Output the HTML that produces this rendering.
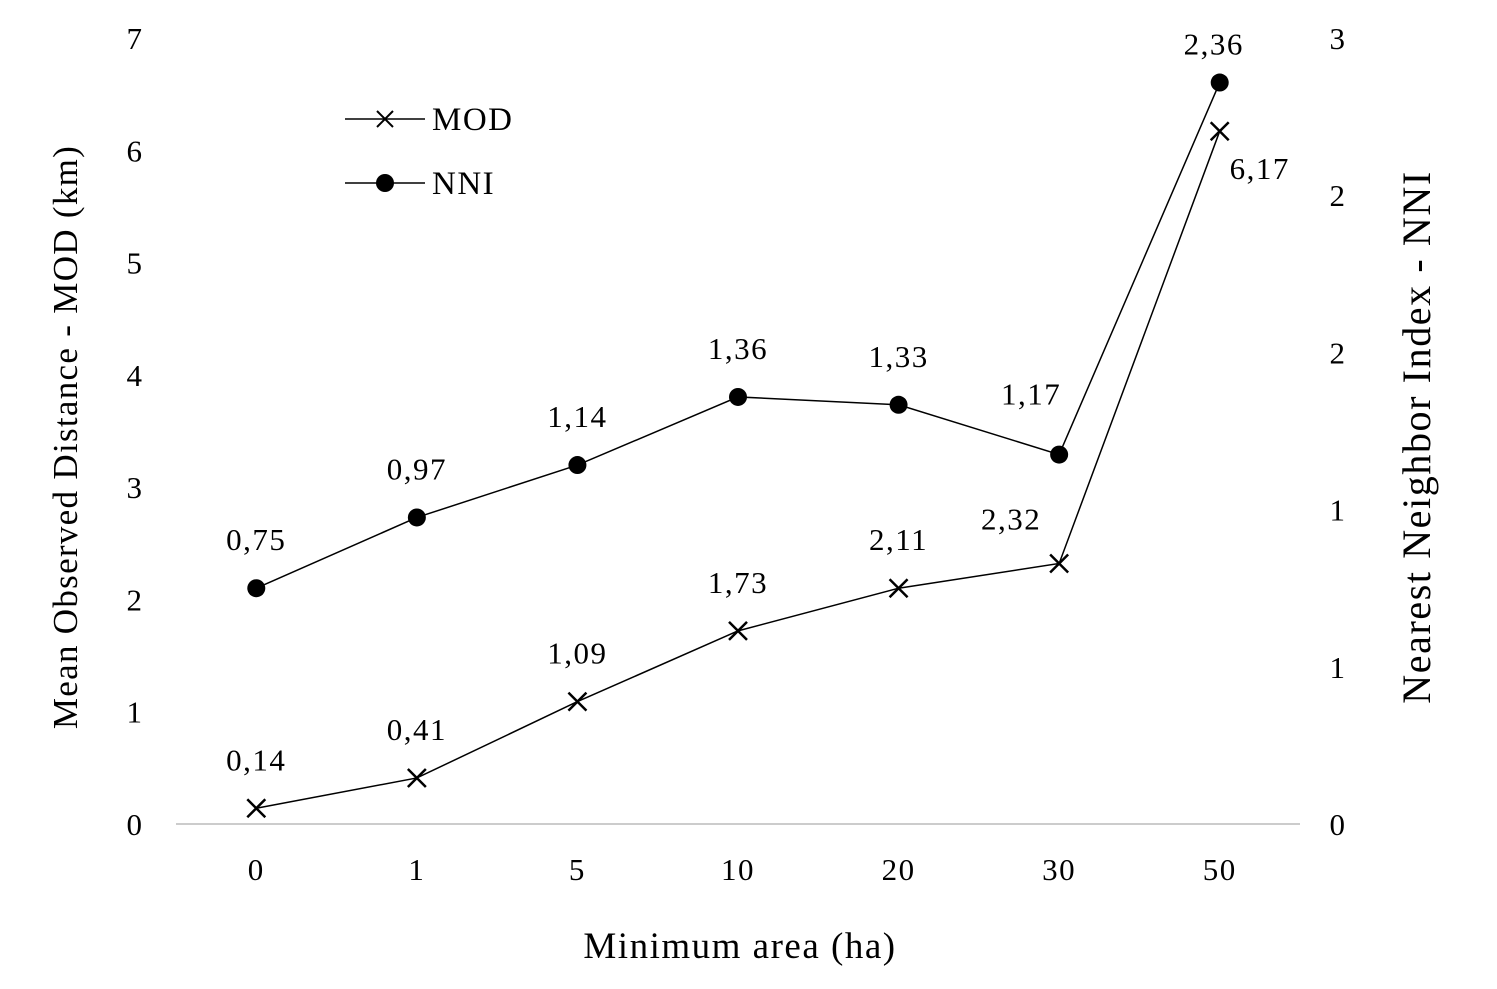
<!DOCTYPE html>
<html><head><meta charset="utf-8"><style>
body{margin:0;background:#fff;}
svg text{font-family:"Liberation Serif",serif;fill:#000;}
</style></head><body>
<svg id="chart" width="1497" height="984" xmlns="http://www.w3.org/2000/svg">
<g id="axes"></g><g id="series"></g>
<g>
 <line x1="345" y1="119" x2="425" y2="119" stroke="#000" stroke-width="1.5"/>
 <path d="M377,111 L393,127 M393,111 L377,127" stroke="#000" stroke-width="2"/>
 <text x="432" y="130" font-size="33" letter-spacing="1.5">MOD</text>
 <line x1="345" y1="183" x2="425" y2="183" stroke="#000" stroke-width="1.5"/>
 <circle cx="385" cy="183" r="9" fill="#000"/>
 <text x="432" y="194" font-size="33" letter-spacing="1.5">NNI</text>
</g>
<text x="740" y="958" font-size="37" letter-spacing="1.5" text-anchor="middle">Minimum area (ha)</text>
<text transform="translate(77,437) rotate(-90)" font-size="35" letter-spacing="1.3" text-anchor="middle">Mean Observed Distance - MOD (km)</text>
<text transform="translate(1430,437) rotate(-90)" font-size="40" letter-spacing="1.6" text-anchor="middle">Nearest Neighbor Index - NNI</text>
</svg>
<script>
const categories=["0","1","5","10","20","30","50"];
const modValues=[0.14,0.41,1.09,1.72,2.10,2.32,6.17];
const modLabels=["0,14","0,41","1,09","1,73","2,11","2,32","6,17"];
const nniValues=[0.9,1.17,1.37,1.63,1.60,1.41,2.83];
const nniLabels=["0,75","0,97","1,14","1,36","1,33","1,17","2,36"];
const leftTicks=[0,1,2,3,4,5,6,7];
const rightTicks=[0,0.6,1.2,1.8,2.4,3];
const rightTickLabels=["0","1","1","2","2","3"];
const NS="http://www.w3.org/2000/svg";
const x0=176,x1=1300,yB=824,yT=38;
const xs=i=>x0+(x1-x0)/categories.length*(i+0.5);
const yL=v=>yB-(yB-yT)*v/7;
const yR=v=>yB-(yB-yT)*v/3;
function mk(t,a,p,txt){const e=document.createElementNS(NS,t);for(const k in a)e.setAttribute(k,a[k]);if(txt!=null)e.textContent=txt;p.appendChild(e);return e;}
const ax=document.getElementById('axes'),se=document.getElementById('series');
let l=mk('line',{x1:x0,y1:yB,x2:x1,y2:yB,stroke:'#999','stroke-width':1},ax);


const fs={'font-size':31,'letter-spacing':1.5,'text-anchor':'middle'};
leftTicks.forEach(v=>{const t=mk('text',Object.assign({x:135,y:yL(v)+11},fs),ax,String(v));

});
rightTicks.forEach((v,i)=>{const t=mk('text',Object.assign({x:1338,y:yR(v)+11},fs),ax,rightTickLabels[i]);

});
categories.forEach((c,i)=>{const t=mk('text',Object.assign({x:xs(i),y:880},fs),ax,c);

});
// NNI
let p=mk('polyline',{points:nniValues.map((v,i)=>xs(i)+','+yR(v)).join(' '),fill:'none',stroke:'#000','stroke-width':1.5},se);


nniValues.forEach((v,i)=>{const c=mk('circle',{cx:xs(i),cy:yR(v),r:9,fill:'#000'},se);


let lx=xs(i),ly=yR(v)-38;if(i==6){lx-=6;ly=yR(v)-28;}if(i==5){lx-=28;ly=yR(v)-50;}
const t=mk('text',Object.assign({x:lx,y:ly},fs),se,nniLabels[i]);

});
// MOD
p=mk('polyline',{points:modValues.map((v,i)=>xs(i)+','+yL(v)).join(' '),fill:'none',stroke:'#000','stroke-width':1.5},se);


modValues.forEach((v,i)=>{const x=xs(i),y=yL(v);
const m=mk('path',{d:`M${x-9},${y-9}L${x+9},${y+9}M${x+9},${y-9}L${x-9},${y+9}`,stroke:'#000','stroke-width':2.5},se);


let lx=x,ly=y-38;if(i==5){lx=x-48;ly=y-34;}if(i==6){lx=x+40;ly=y+48;}
const t=mk('text',Object.assign({x:lx,y:ly},fs),se,modLabels[i]);

});
</script>
</body></html>
